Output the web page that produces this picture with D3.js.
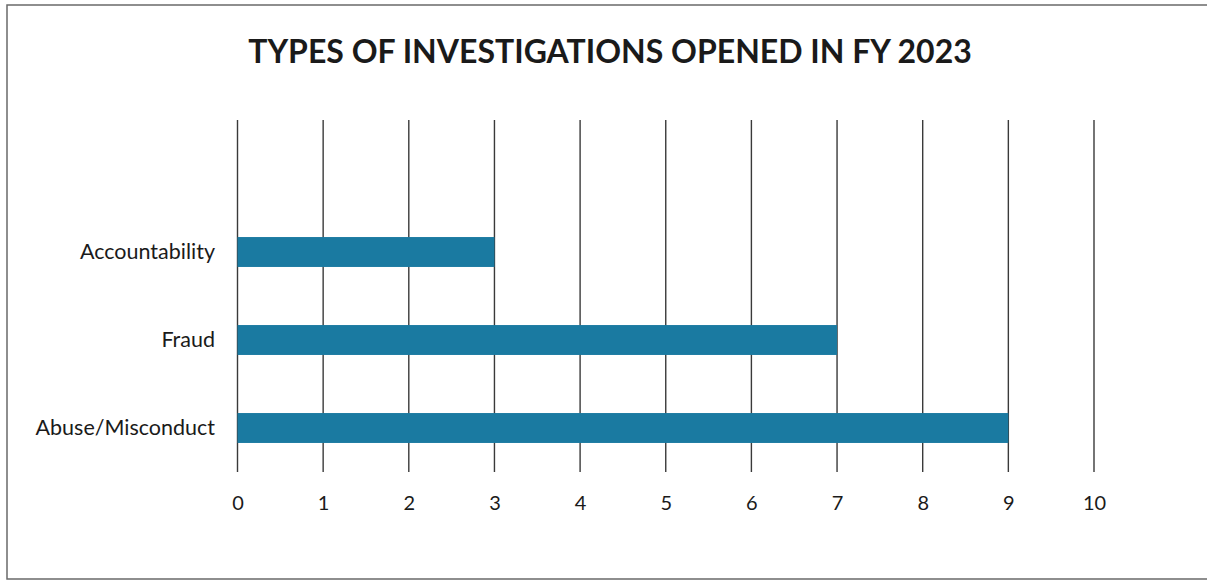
<!DOCTYPE html>
<html>
<head>
<meta charset="utf-8">
<script src="https://cdn.jsdelivr.net/npm/d3@7"></script>
<style>
  body { margin: 0; background: #fff; overflow: hidden; }
  text { font-family: Lato, "Open Sans", sans-serif; fill: #1a1a1a; }
</style>
</head>
<body>
<div class="chartContainer"></div>
<script>
const w = 1207;
const h = 581;

// data, top slot is an empty category like in the original sheet
const categories = ["", "Accountability", "Fraud", "Abuse/Misconduct"];
const values = [null, 3, 7, 9];
const ticks = [0, 1, 2, 3, 4, 5, 6, 7, 8, 9, 10];
const title = "TYPES OF INVESTIGATIONS OPENED IN FY 2023";

const svg = d3.select(".chartContainer").append("svg")
        .attr("width", w)
        .attr("height", h)
        .style("display", "block");

//outer frame, only top / left / bottom (right side is cut off in the scan)
svg.append("path")
    .attr("d", "M1207,5 H7 V579 H1207")
    .attr("fill", "none")
    .attr("stroke", "#6a6a6a")
    .attr("stroke-width", 1.5);

svg.append("text")
    .attr("x", 610).attr("y", 63)
    .attr("text-anchor", "middle")
    .style("font-size", "32px")
    .style("font-weight", "bold")
    .text(title);

const x = d3.scaleLinear().domain([0, 10]).range([237.5, 1094]);
const y = d3.scaleBand().domain(categories).range([120, 472]).paddingInner(0.66).paddingOuter(0.33);

//vertical gridlines
svg.append("g")
    .selectAll("line")
    .data(ticks)
    .enter()
    .append("line")
    .attr("x1", d => x(d)).attr("x2", d => x(d))
    .attr("y1", 120).attr("y2", 472)
    .attr("stroke", "#3a3a3a")
    .attr("stroke-width", 1.4);

//bars
svg.append("g")
    .selectAll("rect")
    .data(categories.map((c, i) => ({c: c, v: values[i]})).filter(d => d.v != null))
    .enter()
    .append("rect")
    .attr("x", x(0))
    .attr("y", d => y(d.c))
    .attr("width", d => x(d.v) - x(0))
    .attr("height", y.bandwidth())
    .attr("fill", "#1a7aa1");

//x axis labels
const xAxis = d3.axisBottom(x).tickValues(ticks).tickSize(0).tickPadding(0);
const gx = svg.append("g").attr("transform", "translate(0,496)").call(xAxis);
gx.select(".domain").remove();
gx.selectAll("text").style("font-size", "20px").attr("dy", "0.71em").attr("fill", "#1a1a1a");

//category labels
const yAxis = d3.axisLeft(y).tickSize(0).tickPadding(0);
const gy = svg.append("g").attr("transform", "translate(215,0)").call(yAxis);
gy.select(".domain").remove();
gy.selectAll("text").style("font-size", "21.5px").attr("fill", "#1a1a1a");
</script>
</body>
</html>
